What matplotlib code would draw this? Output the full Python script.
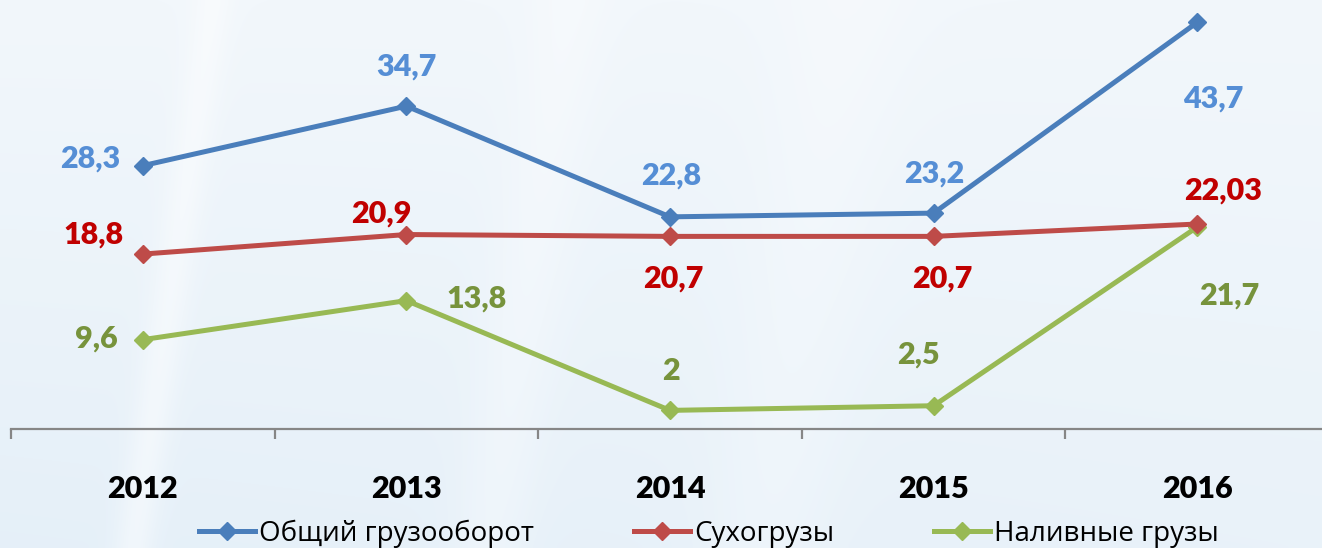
import numpy as np
import matplotlib
matplotlib.use("Agg")
import matplotlib.pyplot as plt
from matplotlib.lines import Line2D

# ---- data ----
years = ["2012", "2013", "2014", "2015", "2016"]
total = [28.3, 34.7, 22.8, 23.2, 43.7]
dry = [18.8, 20.9, 20.7, 20.7, 22.03]
liquid = [9.6, 13.8, 2, 2.5, 21.7]
total_labels = ["28,3", "34,7", "22,8", "23,2", "43,7"]
dry_labels = ["18,8", "20,9", "20,7", "20,7", "22,03"]
liquid_labels = ["9,6", "13,8", "2", "2,5", "21,7"]
series_names = ["Общий грузооборот", "Сухогрузы", "Наливные грузы"]

# ---- style ----
line_colors = ["#4A7EBB", "#BE4B48", "#98B954"]
label_colors = ["#558ED5", "#C00000", "#77933C"]
# label offsets in pixels (dx, dy up) from point to label baseline-centre
offsets = [
    [(-53, -2), (0, 31), (1, 32), (1, 31), (16, -85)],
    [(-49, 11), (-25, 12), (3, -51), (9, -51), (26, 24)],
    [(-46, -8), (70, -7), (1, 30), (-15, 42), (32, -77)],
]

W, H = 1322, 548
fig = plt.figure(figsize=(W / 100, H / 100), dpi=100)

# background gradient
bg = fig.add_axes([0, 0, 1, 1], zorder=-10)
yy, xx = np.mgrid[0:1:120j, 0:1:300j]
c_top = np.array([0xF2, 0xF7, 0xFB]) / 255
c_bot = np.array([0xE2, 0xEE, 0xF8]) / 255
t = (0.55 * yy + 0.25 * (1 - xx) * yy)[..., None]
img = c_top * (1 - t) + c_bot * t
# soft lighter streaks
for cx, w, a in [(0.10, 0.015, 0.45), (0.37, 0.03, 0.3), (0.58, 0.05, 0.25)]:
    s = np.exp(-((xx - cx - 0.06 * (1 - yy)) / w) ** 2) * a
    img = img * (1 - s[..., None]) + np.ones(3) * s[..., None]
bg.imshow(img, aspect="auto", extent=[0, 1, 0, 1], interpolation="bicubic")
bg.set_axis_off()

ax_bottom_px = 429
px_per_unit = 9.305
ax = fig.add_axes([11 / W, (H - ax_bottom_px) / H, 1318 / W, ax_bottom_px / H])
ax.patch.set_alpha(0)
ax.set_xlim(-0.5, 4.5)
ax.set_ylim(0, ax_bottom_px / px_per_unit)

label_font = ["Lato", "DejaVu Sans"]

x = np.arange(len(years))
all_series = [total, dry, liquid]
all_labels = [total_labels, dry_labels, liquid_labels]
for i, (vals, labs) in enumerate(zip(all_series, all_labels)):
    ax.plot(x, vals, color=line_colors[i], lw=3.6, marker="D", ms=9.5,
            mec=line_colors[i], mfc=line_colors[i], zorder=3 + (2 - i) * 0.1,
            solid_capstyle="round", clip_on=False)
    for j, (xv, v, lab) in enumerate(zip(x, vals, labs)):
        dx, dy = offsets[i][j]
        ax.annotate(lab, (xv, v), xytext=(dx, dy), textcoords="offset pixels",
                    ha="center", va="baseline", color=label_colors[i],
                    fontsize=22, fontweight="heavy", family=label_font,
                    annotation_clip=False)

for s in ["top", "right", "left"]:
    ax.spines[s].set_visible(False)
ax.spines["bottom"].set_color("#868686")
ax.spines["bottom"].set_linewidth(1.6)
ax.set_yticks([])
ax.set_xticks(np.arange(-0.5, 5, 1.0))
ax.set_xticklabels([])
ax.tick_params(axis="x", which="major", direction="out", length=7.5, width=1.6,
               color="#868686")
ax.set_xticks(x, minor=True)
ax.set_xticklabels(years, minor=True, fontsize=22, fontweight="heavy",
                   family=label_font, color="black")
ax.tick_params(axis="x", which="minor", length=0, pad=33)

handles = [Line2D([], [], color=line_colors[i], lw=3.6, marker="D", ms=9.5,
                  mfc=line_colors[i], mec=line_colors[i]) for i in range(3)]
leg = fig.legend(handles, series_names, loc="center", ncol=3,
                 bbox_to_anchor=(709 / W, 1 - 534 / H), frameon=False,
                 prop={"family": ["Open Sans", "DejaVu Sans"], "size": 20},
                 handlelength=2.0, handletextpad=0.15, columnspacing=3.6,
                 borderpad=0, borderaxespad=0)

fig.savefig("out.png", dpi=100)
